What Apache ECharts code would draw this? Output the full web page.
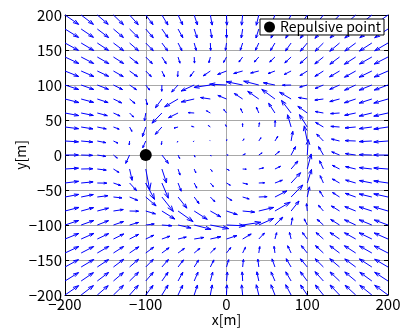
<!DOCTYPE html>
<html>
<head>
<meta charset="utf-8">
<script src="https://cdn.jsdelivr.net/npm/echarts@6/dist/echarts.min.js"></script>
<style>
  html, body { margin: 0; padding: 0; background: #fff; }
  #main { width: 400px; height: 329px; }
</style>
</head>
<body>
<div id="main"></div>
<script>
// grid of the vector field (tail positions)
var gridX = [-200, -180, -160, -140, -120, -100, -80, -60, -40, -20, 0, 20, 40, 60, 80, 100, 120, 140, 160, 180, 200];
var gridY = [200, 180, 160, 140, 120, 100, 80, 60, 40, 20, 0, -20, -40, -60, -80, -100, -120, -140, -160, -180, -200];

// arrow x components, one row per gridY value
var uRows = [
  [16.9, 15.2, 13.5, 12.4, 10.7, 9, 7.5, 5.8, 4.1, 2.3, 0.5, -1.3, -3.1, -4.9, -6.7, -8.3, -10, -11.8, -13.1, -14.9, -16.5],
  [16.8, 15.2, 14, 12.3, 11, 9.3, 7.6, 5.9, 3.6, 1.8, 0.1, -1.7, -3.5, -4.8, -6.6, -8.5, -10.4, -11.8, -13.5, -14.9, -16.5],
  [16.7, 15.6, 13.9, 12.7, 11, 9.3, 7.2, 4.8, 2.5, 0.4, -1.3, -2.9, -4.1, -5.5, -7, -8.4, -10.2, -12.1, -13.5, -15.4, -16.5],
  [17.2, 15.5, 14.3, 12.6, 10.5, 8.2, 5.4, 2.4, 0.4, -1.8, -3.6, -4.6, -5.6, -6.5, -7.8, -8.9, -10.6, -12, -14, -15.3, -17.1],
  [17, 15.9, 14.1, 12.1, 9.8, 6.9, 3.3, -0.5, -5.1, -8.7, -11, -11.1, -10.1, -8.6, -8.6, -9, -10.5, -12.4, -13.9, -15.8, -17.1],
  [16.9, 15.6, 13.9, 11.3, 8.5, 4.8, -0.2, -7.9, -16.2, -20.3, -20.9, -20.5, -18.7, -14.3, -10.8, -9.4, -10.4, -12.2, -13.8, -15.7, -17],
  [17.3, 15.4, 13.4, 10.2, 6.7, 2, -8, -16.6, -16, -12.2, -10.7, -10.3, -13.7, -16.3, -14.2, -10.9, -10.6, -12.1, -14, -15.7, -17.6],
  [17, 15.1, 12.4, 8.2, 4.9, -1.6, -12.2, -11.8, -7.3, -4.9, -3.4, -2.4, -3, -7.8, -11.9, -11.6, -10.1, -11.1, -13.7, -15.7, -17.6],
  [16.8, 14.6, 11.1, 7.1, 2.9, -4.1, -8.1, -5, -3.2, -2.5, -1.2, -0.1, 0.8, 0.3, -4.4, -9.6, -9.7, -10.8, -13.2, -15.8, -17.6],
  [16.7, 14.4, 10.6, 5.6, -0.5, -3.7, -0.6, -1, -1.1, -0.5, 0.4, 1.7, 2.7, 3.5, 2.1, -3.7, -8.3, -10, -13.1, -15.7, -17.6],
  [16.6, 14.2, 10.4, 4.8, -4.8, 0, 8, 2, 1, 1, 2, 3.3, 4.1, 5.5, 5.5, 1.3, -6, -9.7, -12.8, -15.7, -17.6],
  [16.7, 14.5, 11.1, 6.8, 3.1, 4.9, 5.7, 2.5, 2, 2.3, 3.4, 4.5, 5.9, 6.9, 8.4, 4.9, -4.7, -8.9, -12.6, -15.6, -17.6],
  [16.8, 14.8, 11.8, 9.1, 8.6, 10.8, 8, 3.9, 3.2, 3.8, 4.8, 6.2, 7.2, 9.2, 11.7, 5.3, -4, -8.9, -12.5, -15.5, -17.6],
  [17, 15.1, 13.2, 10.5, 10.2, 12.8, 14.2, 10.9, 6, 5.6, 6.6, 8.1, 10.3, 14.8, 14.5, 2.8, -4.7, -8.7, -12.9, -15.7, -17.6],
  [17.3, 15.4, 13.9, 12.2, 11.1, 12, 16, 18.6, 16.2, 13, 13.4, 14.9, 18.5, 18.9, 9.8, -0.9, -6.2, -10.1, -13.5, -15.7, -17.6],
  [16.9, 15.6, 13.9, 12.5, 11.1, 10.5, 12.3, 16.1, 20.9, 22.8, 23.2, 22.6, 18.4, 9.7, 1.7, -3.7, -7.8, -11, -13.9, -15.7, -17],
  [17, 15.8, 14.1, 12.8, 11.2, 10, 9.9, 10.2, 12, 13, 13, 10.6, 7, 2.1, -2, -5.9, -9.1, -11.7, -13.9, -15.8, -17.1],
  [17.2, 15.5, 14.3, 12.6, 11.4, 9.8, 8.9, 7.9, 7.1, 6.2, 5.3, 3.5, 1.2, -1.1, -4.3, -7.3, -9.8, -12, -14, -15.3, -17.1],
  [16.7, 15.6, 13.9, 12.7, 11, 9.3, 8.1, 6.7, 5.4, 4.4, 2.7, 1, -1.2, -3.6, -6.1, -8.4, -10.2, -12.1, -13.5, -15.4, -16.5],
  [16.8, 15.2, 14, 12.3, 11, 9.3, 7.6, 5.9, 4.7, 2.9, 1.1, -0.6, -2.4, -4.8, -6.6, -8.5, -10.4, -11.8, -13.5, -14.9, -16.5],
  [16.9, 15.2, 13.5, 12.4, 10.7, 9, 7.6, 5.8, 4.1, 2.3, 0.5, -1.3, -3.1, -4.9, -6.7, -8.3, -10, -11.8, -13.1, -14.9, -16.5]
];

// arrow y components, one row per gridY value
var vRows = [
  [-13.4, -13.4, -13.3, -13.8, -13.8, -13.7, -14.3, -14.3, -14.3, -14.4, -14.5, -14.5, -14.6, -14.6, -14.7, -14.3, -14.3, -14.3, -13.9, -13.9, -13.9],
  [-12, -11.9, -12.2, -12.1, -12.5, -12.5, -12.5, -12.5, -12.8, -12.8, -12.9, -12.9, -12.9, -13, -13.1, -13.2, -13.3, -12.9, -12.9, -12.5, -12.5],
  [-10.5, -10.7, -10.6, -11, -11, -10.9, -11.2, -11, -10.6, -10.6, -10.5, -10.3, -10.3, -10.8, -11.4, -11.7, -11.7, -11.8, -11.5, -11.5, -11.1],
  [-9.3, -9.2, -9.5, -9.3, -9.6, -9.5, -9.5, -8.8, -8.7, -8.2, -7.8, -7.2, -7.2, -7.2, -8.4, -9.3, -9.9, -10.3, -10.4, -10, -10.1],
  [-7.9, -8, -7.7, -8, -8, -8, -8.4, -8.1, -7.9, -6.9, -4.9, -3.6, -2.9, -3.7, -5, -6.6, -7.7, -8.4, -8.9, -8.9, -8.6],
  [-6.4, -6.4, -6.2, -6.5, -6.7, -7.2, -9, -10.1, -8.6, -3.5, 1.2, 4.8, 5.5, 3.2, -0.3, -3, -5, -6.2, -7.4, -7.4, -7.2],
  [-5.1, -4.8, -5.1, -5.6, -6.3, -8.4, -12.5, -11.2, -4.2, 2.1, 5.1, 7.9, 11, 13.8, 9.7, 2.1, -1.6, -3.7, -5.4, -5.9, -5.9],
  [-3.7, -3.5, -3.8, -4.2, -5.8, -11.3, -14.5, -6.7, 0.5, 3.2, 5, 6.3, 8.4, 13.9, 18, 9.6, 2.1, -0.9, -3.3, -4.4, -4.5],
  [-2.4, -2.7, -2.7, -3.1, -6.3, -13.7, -10.5, -1.6, 1, 2.1, 3.2, 4.8, 6.1, 9.2, 17.5, 17.7, 6.5, 0.9, -1.3, -2.4, -3],
  [-1.2, -1.5, -2.4, -3.1, -5.5, -9.7, -5.2, -1.7, -0.8, 0.6, 1.9, 3.1, 4.7, 6.7, 13.8, 21.6, 9.9, 2.8, 0.6, -0.9, -1.5],
  [0, -0.5, -2, -4.5, -12, 0, -12, -5, -3, -1.5, 0, 1.5, 3, 5, 12, 22, 12, 4.5, 2, 0.5, 0],
  [1.2, 0.4, -1.6, -4.9, -16.2, -30, -20, -8.7, -5.5, -3.4, -1.9, -0.3, 1.6, 3.8, 11.4, 21.5, 11.8, 5.2, 3.4, 2, 1.5],
  [2.4, 1.6, -0.2, -3.6, -10.8, -23.4, -21.7, -11.7, -7.3, -5.2, -3.2, -1.7, 0.3, 4, 14.7, 19.4, 10.5, 5.8, 4.2, 3.5, 3],
  [3.7, 3.5, 1.9, -1.3, -4.9, -12.7, -20.7, -15.9, -9.4, -6.7, -5, -2.8, 0.5, 8.7, 17.2, 14.5, 8.6, 6.4, 5.2, 4.4, 4.5],
  [5.1, 4.8, 4.1, 2.1, -0.3, -4.1, -11.5, -15.2, -11.9, -8.4, -5.1, -1.6, 5.1, 12.6, 14.3, 10.5, 8.2, 7.2, 6.3, 5.9, 5.9],
  [6.4, 6.4, 6.2, 4.9, 3.6, 1.5, -1.1, -4.3, -6.2, -5.2, -1.2, 3.9, 9.4, 11.2, 10.3, 8.7, 8.1, 7.9, 7.4, 7.4, 7.2],
  [7.9, 8, 7.7, 7.2, 6.6, 5.4, 4, 2.8, 2.2, 3.3, 4.9, 7.2, 8.5, 9, 9.4, 9.2, 9.2, 9.2, 8.9, 8.9, 8.6],
  [9.3, 9.2, 9.5, 9.3, 8.9, 8.3, 7.5, 6.5, 6.7, 7, 7.8, 8.3, 9.2, 9.5, 10.4, 10.5, 10.6, 10.3, 10.4, 10, 10.1],
  [10.5, 10.7, 10.6, 11, 11, 10.9, 10.7, 10.2, 9.9, 10.1, 10.5, 10.8, 11.1, 11.6, 11.8, 11.7, 11.7, 11.8, 11.5, 11.5, 11.1],
  [12, 11.9, 12.2, 12.1, 12.5, 12.5, 12.5, 12.5, 12.6, 12.7, 12.9, 13, 13.1, 13, 13.1, 13.2, 13.3, 12.9, 12.9, 12.5, 12.5],
  [13.4, 13.4, 13.3, 13.8, 13.8, 13.7, 14.3, 14.3, 14.3, 14.4, 14.5, 14.5, 14.6, 14.6, 14.7, 14.3, 14.3, 14.3, 13.9, 13.9, 13.9]
];

var repulsivePoint = [-100, 0];
var legendName = "Repulsive point";

function init_quiver(container) {
  var chartDom = document.getElementById(container);
  var myChart = echarts.init(chartDom, null, { renderer: "canvas" });
  var option;
  var font = "'Noto Sans CJK JP', 'Noto Sans', sans-serif";

  // flatten the rows into [x, y, u, v] items, skip the singular point
  var arrowData = [];
  for (var r = 0; r < gridY.length; r++) {
    for (var c = 0; c < gridX.length; c++) {
      var u = uRows[r][c], v = vRows[r][c];
      if (u === 0 && v === 0) continue;
      arrowData.push([gridX[c], gridY[r], u, v]);
    }
  }

  function minusLabel(val) {
    return String(val).replace("-", "\u2212");
  }

  // matlab-like quiver arrow: shaft + two head strokes
  function renderArrow(params, api) {
    var x = api.value(0), y = api.value(1), u = api.value(2), v = api.value(3);
    var a = 0.33, b = 0.33;
    var tail = api.coord([x, y]);
    var tip = api.coord([x + u, y + v]);
    var h1 = api.coord([x + u - a * (u + b * v), y + v - a * (v - b * u)]);
    var h2 = api.coord([x + u - a * (u - b * v), y + v - a * (v + b * u)]);
    return {
      type: "group",
      children: [
        {
          type: "line",
          shape: { x1: tail[0], y1: tail[1], x2: tip[0], y2: tip[1] },
          style: { stroke: "#0000ff", lineWidth: 1 },
        },
        {
          type: "polyline",
          shape: { points: [h1, tip, h2] },
          style: { stroke: "#0000ff", lineWidth: 1, fill: null },
        },
      ],
    };
  }

  var axisLine = { onZero: false, lineStyle: { color: "#000", width: 1 } };
  var axisTick = { show: true, inside: true, length: 4, lineStyle: { color: "#000" } };

  option = {
    animation: false,
    backgroundColor: "#fff",
    grid: { left: 65, right: 12, top: 15, bottom: 34, containLabel: false, outerBoundsMode: "none" },
    legend: {
      data: [{ name: legendName, icon: "circle", itemStyle: { color: "#000", opacity: 1 } }],
      right: 16,
      top: 19,
      itemWidth: 11,
      itemHeight: 11,
      itemGap: 5,
      padding: [1, 3, 1, 4],
      borderColor: "#000",
      borderWidth: 1,
      borderRadius: 0,
      backgroundColor: "#fff",
      selectedMode: false,
      textStyle: { fontSize: 14, color: "#000", fontFamily: font },
    },
    xAxis: [
      {
        type: "value",
        min: -200,
        max: 200,
        interval: 100,
        position: "bottom",
        name: "x[m]",
        nameLocation: "middle",
        nameGap: 18,
        nameMoveOverlap: false,
        nameTextStyle: { fontSize: 14, color: "#000", fontFamily: font },
        axisLine: axisLine,
        axisTick: axisTick,
        axisLabel: { color: "#000", fontSize: 15, margin: 2, fontFamily: font, formatter: minusLabel },
        splitLine: { show: true, lineStyle: { color: "#a8a8a8", width: 1 } },
      },
      {
        type: "value",
        min: -200,
        max: 200,
        interval: 100,
        position: "top",
        axisLine: axisLine,
        axisTick: axisTick,
        axisLabel: { show: false },
        splitLine: { show: false },
      },
    ],
    yAxis: [
      {
        type: "value",
        min: -200,
        max: 200,
        interval: 50,
        position: "left",
        name: "y[m]",
        nameLocation: "middle",
        nameGap: 37,
        nameMoveOverlap: false,
        nameTextStyle: { fontSize: 14, color: "#000", fontFamily: font },
        axisLine: axisLine,
        axisTick: axisTick,
        axisLabel: { color: "#000", fontSize: 15, margin: 3, fontFamily: font, formatter: minusLabel },
        splitLine: { show: true, lineStyle: { color: "#a8a8a8", width: 1 } },
      },
      {
        type: "value",
        min: -200,
        max: 200,
        interval: 50,
        position: "right",
        axisLine: axisLine,
        axisTick: axisTick,
        axisLabel: { show: false },
        splitLine: { show: false },
      },
    ],
    series: [
      {
        type: "custom",
        name: "field",
        renderItem: renderArrow,
        data: arrowData,
        encode: { x: 0, y: 1 },
        silent: true,
        z: 2,
      },
      {
        type: "scatter",
        name: legendName,
        data: [repulsivePoint],
        symbol: "circle",
        symbolSize: 12,
        itemStyle: { color: "#000", opacity: 1 },
        silent: true,
        z: 5,
      },
    ],
  };

  option && myChart.setOption(option);
}

init_quiver("main");
</script>
</body>
</html>
